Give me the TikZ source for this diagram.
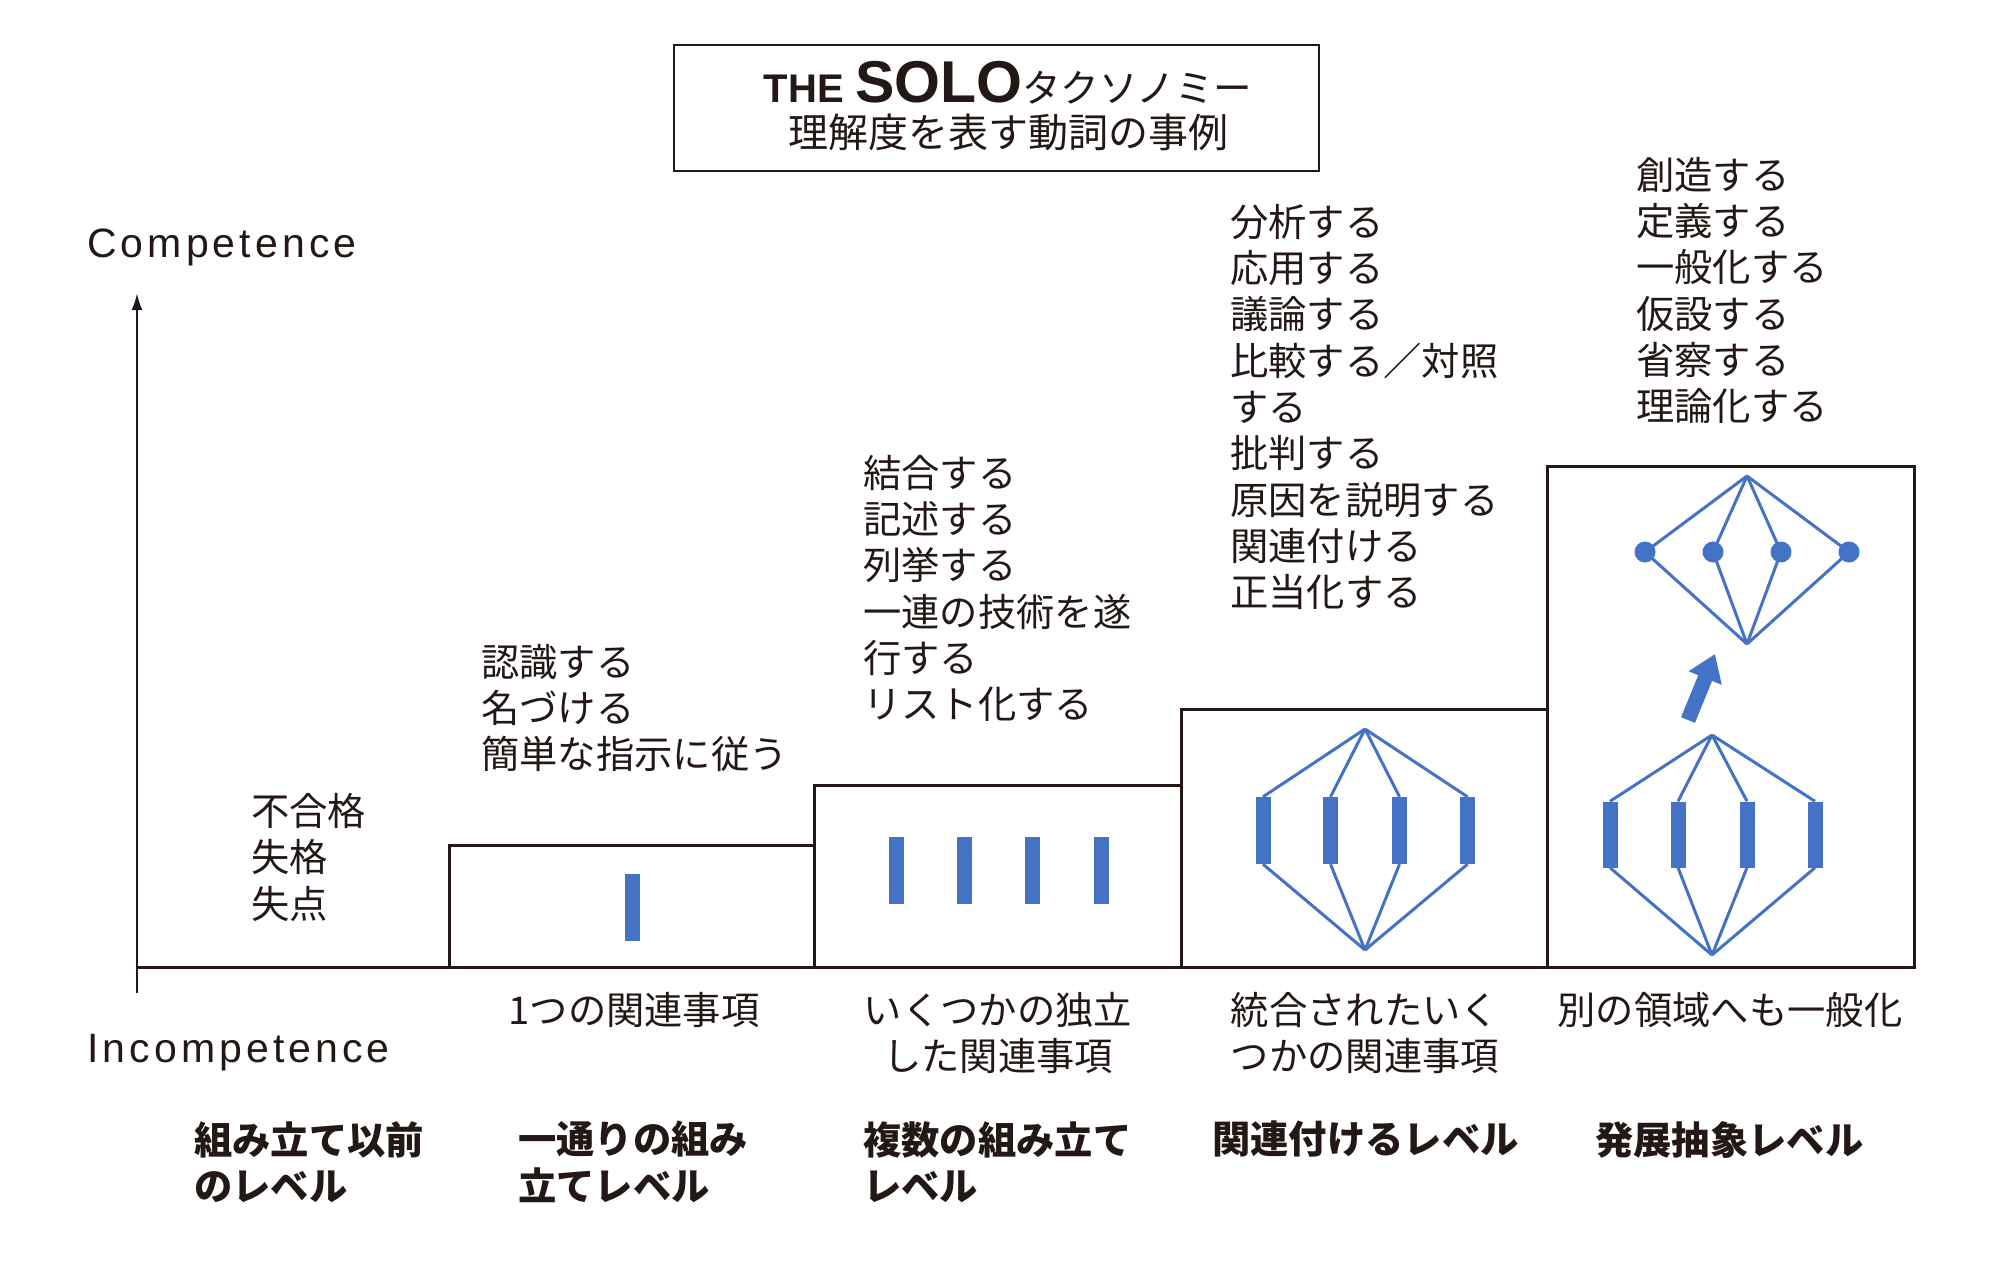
\documentclass[tikz,border=0pt]{standalone}
\usepackage{fontspec}
\setmainfont{Noto Sans CJK JP}
\newfontfamily\latf{Liberation Sans}
\newfontfamily\latsp[LetterSpace=10]{Liberation Sans}
\usetikzlibrary{arrows.meta}
\definecolor{ink}{HTML}{231815}
\definecolor{soloblue}{HTML}{4472C4}
\tikzset{
  frame/.style={draw=ink, line width=3pt},
  jp/.style={font=\fontsize{38.3}{46.3}\selectfont, text=ink, inner sep=0pt, align=left, anchor=north west},
  jpc/.style={jp, align=center, anchor=north},
  jpb/.style={jp, font=\fontsize{38.3}{46.3}\selectfont\bfseries},
  lat/.style={font=\latsp\fontsize{41}{41}\selectfont, text=ink, inner sep=0pt, anchor=base west},
  bar/.style={fill=soloblue, minimum width=15pt, minimum height=67pt, inner sep=0pt, draw=none},
  dot/.style={circle, fill=soloblue, minimum size=21pt, inner sep=0pt},
  link/.style={draw=soloblue, line width=3pt},
}
\begin{document}
\begin{tikzpicture}[x=1pt,y=-1pt]
\useasboundingbox[fill=white] (0,0) rectangle (2001,1266);

% title
\node[draw=ink, line width=2pt, minimum width=645pt, minimum height=126pt, inner sep=0pt] (titlebox) at (996.5,108) {};
\node[anchor=base, text=ink, inner sep=0pt] (title1) at (1008,102)
  {{\latf\bfseries\fontsize{40}{40}\selectfont THE }{\latf\bfseries\fontsize{59}{59}\selectfont SOLO}{\fontsize{38.5}{38.5}\selectfont タクソノミー}};
\node[anchor=base, text=ink, inner sep=0pt] (title2) at (1008,147)
  {\fontsize{40}{40}\selectfont 理解度を表す動詞の事例};

% axes
\coordinate (o) at (137,993);
\coordinate (ytop) at (137,293);
\coordinate (xl) at (137,967);
\coordinate (xr) at (1914,967);
\draw[ink, line width=2.5pt, -{Latex[length=17pt,width=11pt]}] (o) -- (ytop);
\draw[frame] (xl) -- (xr);
\node[lat] (comp) at (87,257) {Competence};
\node[lat] (incomp) at (87,1062) {Incompetence};

% level boxes
\draw[frame] (449,967) rectangle (814,845);
\draw[frame] (814,967) rectangle (1181,785);
\draw[frame] (1181,967) rectangle (1547,709);
\draw[frame] (1547,967) rectangle (1914,466);

% box 1
\node[bar] (u1) at (632,907) {};

% box 2
\node[bar] (m1) at (896,870.5) {};
\node[bar] (m2) at (964.5,870.5) {};
\node[bar] (m3) at (1032.5,870.5) {};
\node[bar] (m4) at (1101,870.5) {};

% box 3
\coordinate (c3t) at (1365,729);
\coordinate (c3b) at (1365,950);
\node[bar] (r1) at (1263,830.5) {};
\node[bar] (r2) at (1330.5,830.5) {};
\node[bar] (r3) at (1399.5,830.5) {};
\node[bar] (r4) at (1467.5,830.5) {};
\foreach \n in {r1,r2,r3,r4}{
  \draw[link] (c3t) -- (\n.north);
  \draw[link] (\n.south) -- (c3b);
}

% box 4 lower
\coordinate (c4t) at (1712,735);
\coordinate (c4b) at (1712,955);
\node[bar, minimum height=66pt] (e1) at (1610,834.5) {};
\node[bar, minimum height=66pt] (e2) at (1678,834.5) {};
\node[bar, minimum height=66pt] (e3) at (1747,834.5) {};
\node[bar, minimum height=66pt] (e4) at (1815,834.5) {};
\foreach \n in {e1,e2,e3,e4}{
  \draw[link] (c4t) -- (\n.north);
  \draw[link] (\n.south) -- (c4b);
}

% box 4 upper
\coordinate (d4t) at (1747,476);
\coordinate (d4b) at (1747,644);
\coordinate (p1) at (1645,552);
\coordinate (p2) at (1713,552);
\coordinate (p3) at (1781,552);
\coordinate (p4) at (1849,552);
\foreach \n in {p1,p2,p3,p4}{
  \draw[link] (d4t) -- (\n) -- (d4b);
}
\node[dot] (q1) at (p1) {};
\node[dot] (q2) at (p2) {};
\node[dot] (q3) at (p3) {};
\node[dot] (q4) at (p4) {};

% arrow
\coordinate (arT) at (1688,720);
\coordinate (arH) at (1715,654);
\draw[draw=soloblue, line width=15pt, -{Triangle[length=26pt,width=34pt]}] (arT) -- (arH);

% verb lists
\node[jp] (v0) at (251,793) {不合格\\失格\\失点};
\node[jp] (v1) at (481,644) {認識する\\名づける\\簡単な指示に従う};
\node[jp] (v2) at (863,455) {結合する\\記述する\\列挙する\\一連の技術を遂\\行する\\リスト化する};
\node[jp] (v3) at (1230,204) {分析する\\応用する\\議論する\\比較する／対照\\する\\批判する\\原因を説明する\\関連付ける\\正当化する};
\node[jp] (v4) at (1636,157) {創造する\\定義する\\一般化する\\仮設する\\省察する\\理論化する};

% structure labels
\node[jpc] (s1) at (634,992) {1つの関連事項};
\node[jpc] (s2) at (998,992) {いくつかの独立\\した関連事項};
\node[jpc] (s3) at (1365,992) {統合されたいく\\つかの関連事項};
\node[jpc] (s4) at (1730,992) {別の領域へも一般化};

% level names
\node[jpb] (n1) at (194,1121) {組み立て以前\\のレベル};
\node[jpb] (n2) at (518,1121) {一通りの組み\\立てレベル};
\node[jpb] (n3) at (863,1121) {複数の組み立て\\レベル};
\node[jpb] (n4) at (1212,1121) {関連付けるレベル};
\node[jpb] (n5) at (1595,1121) {発展抽象レベル};
\end{tikzpicture}
\end{document}
